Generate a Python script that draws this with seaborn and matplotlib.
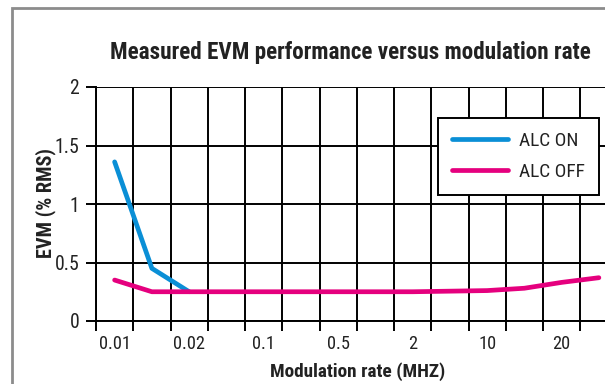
import numpy as np
import pandas as pd
import matplotlib
matplotlib.use("Agg")
import matplotlib.pyplot as plt
from matplotlib import font_manager
from matplotlib.patches import Rectangle
from matplotlib.ticker import FixedLocator, NullFormatter, FixedFormatter
import seaborn as sns

# Modulation rates (MHz) sampled along the x axis, one per grid cell
rates = ["0.01", "0.015", "0.02", "0.05", "0.1", "0.2", "0.5",
         "1", "2", "5", "10", "15", "20", "30"]
# Labelled rates on the axis (every other cell)
tick_labels = ["0.01", "0.02", "0.1", "0.5", "2", "10", "20"]

# EVM (% RMS)
alc_on = [1.36, 0.45, 0.25]
alc_off = [0.35, 0.25, 0.25, 0.25, 0.25, 0.25, 0.25, 0.25, 0.25,
           0.255, 0.26, 0.28, 0.33, 0.37]

series_names = ["ALC ON", "ALC OFF"]
colors = ["#0a8fd6", "#e5007e"]

pos = np.arange(len(rates)) + 0.5
df = pd.concat([
    pd.DataFrame({"pos": pos[:len(alc_on)], "evm": alc_on, "series": series_names[0]}),
    pd.DataFrame({"pos": pos[:len(alc_off)], "evm": alc_off, "series": series_names[1]}),
])

sns.set_style("white")


def pick_condensed_family():
    """First narrow sans family that ships static regular and bold faces."""
    faces = {}
    for f in font_manager.fontManager.ttflist:
        if "[" in f.fname or f.style != "normal":
            continue
        faces.setdefault(f.name, set()).add(int(f.weight))
    for name in ["Roboto Condensed", "Archivo Narrow", "PT Sans Narrow",
                 "Fira Sans Condensed", "IBM Plex Sans Condensed",
                 "Barlow Semi Condensed", "Asap Condensed", "Liberation Sans Narrow"]:
        w = faces.get(name, set())
        if 400 in w and 700 in w:
            return name
    return "Roboto"


family = pick_condensed_family()
plt.rcParams["font.family"] = [family, "DejaVu Sans"]

fig = plt.figure(figsize=(6.05, 3.84), dpi=100)
ax = fig.add_axes([96 / 605, 63 / 384, 1 - 96 / 605, 234 / 384])

sns.lineplot(data=df, x="pos", y="evm", hue="series", hue_order=series_names,
             palette=colors, linewidth=3.4, ax=ax, legend=False, sort=False)

ax.set_xlim(0, (605 - 96) / 37.25)
ax.set_ylim(0, 2)

# grid: one cell per sampled rate
ax.xaxis.set_major_locator(FixedLocator(np.arange(0, len(rates))))
ax.xaxis.set_major_formatter(NullFormatter())
ax.xaxis.set_minor_locator(FixedLocator(pos[::2]))
ax.xaxis.set_minor_formatter(FixedFormatter(tick_labels))
ax.set_yticks([0, 0.5, 1, 1.5, 2])
ax.set_yticklabels(["0", "0.5", "1", "1.5", "2"])

ax.grid(True, which="major", color="black", linewidth=1.4)
ax.set_axisbelow(True)
for s in ["top", "right"]:
    ax.spines[s].set_visible(False)
for s in ["left", "bottom"]:
    ax.spines[s].set_color("black")
    ax.spines[s].set_linewidth(1.4)

renderer = fig.canvas.get_renderer()


def fit_size(text, width_px, weight="normal"):
    """Font size (pt) at which `text` spans about width_px pixels."""
    t = fig.text(0, 0, text, fontsize=20, fontweight=weight)
    w = t.get_window_extent(renderer).width
    t.remove()
    return 20 * width_px / w


tick_fs = fit_size("0.01", 32)
title_fs = fit_size("Measured EVM performance versus modulation rate", 481, "bold")
xlab_fs = fit_size("Modulation rate (MHZ)", 176, "bold")
ylab_fs = fit_size("EVM (% RMS)", 110, "bold")
leg_fs = fit_size("ALC OFF", 66)

ax.tick_params(axis="x", which="major", direction="out", length=7, width=1.4,
               color="black", bottom=True)
ax.tick_params(axis="x", which="minor", length=0, pad=10, labelsize=tick_fs,
               labelcolor="#222222")
ax.tick_params(axis="y", which="major", direction="out", length=7, width=1.4,
               color="black", left=True, pad=5, labelsize=tick_fs * 1.08,
               labelcolor="#222222")

ax.set_xlabel("Modulation rate (MHZ)", fontsize=xlab_fs, fontweight="bold",
              color="#222222")
ax.xaxis.set_label_coords((358 - 96) / (605 - 96), -(372 - 321) / 234)
ax.xaxis.label.set_va("center")
ax.set_ylabel("EVM (% RMS)", fontsize=ylab_fs, fontweight="bold",
              color="#222222")
ax.yaxis.set_label_coords(-(96 - 46) / (605 - 96), (321 - 203) / 234)
ax.yaxis.label.set_va("center")

fig.text(350 / 605, 1 - 53 / 384, "Measured EVM performance versus modulation rate",
         ha="center", va="center", fontsize=title_fs, fontweight="bold",
         color="#222222")

handles = [plt.Line2D([], [], color=c, linewidth=3.4) for c in colors]
leg = ax.legend(handles, series_names, loc="upper left",
                bbox_to_anchor=(0.672, 0.8675), fancybox=False, framealpha=1,
                edgecolor="black", fontsize=leg_fs, handlelength=2.9,
                handletextpad=0.6, borderpad=0.7, labelspacing=0.7,
                borderaxespad=0)
leg.get_frame().set_linewidth(1.4)
for t in leg.get_texts():
    t.set_color("#222222")

# outer panel frame
fig.patches.append(Rectangle((12 / 605, -0.2), 1.2, 0.2 + 376 / 384,
                             transform=fig.transFigure, fill=False,
                             edgecolor="#8c8c8c", linewidth=2.0))

fig.savefig("out.png", dpi=100)
